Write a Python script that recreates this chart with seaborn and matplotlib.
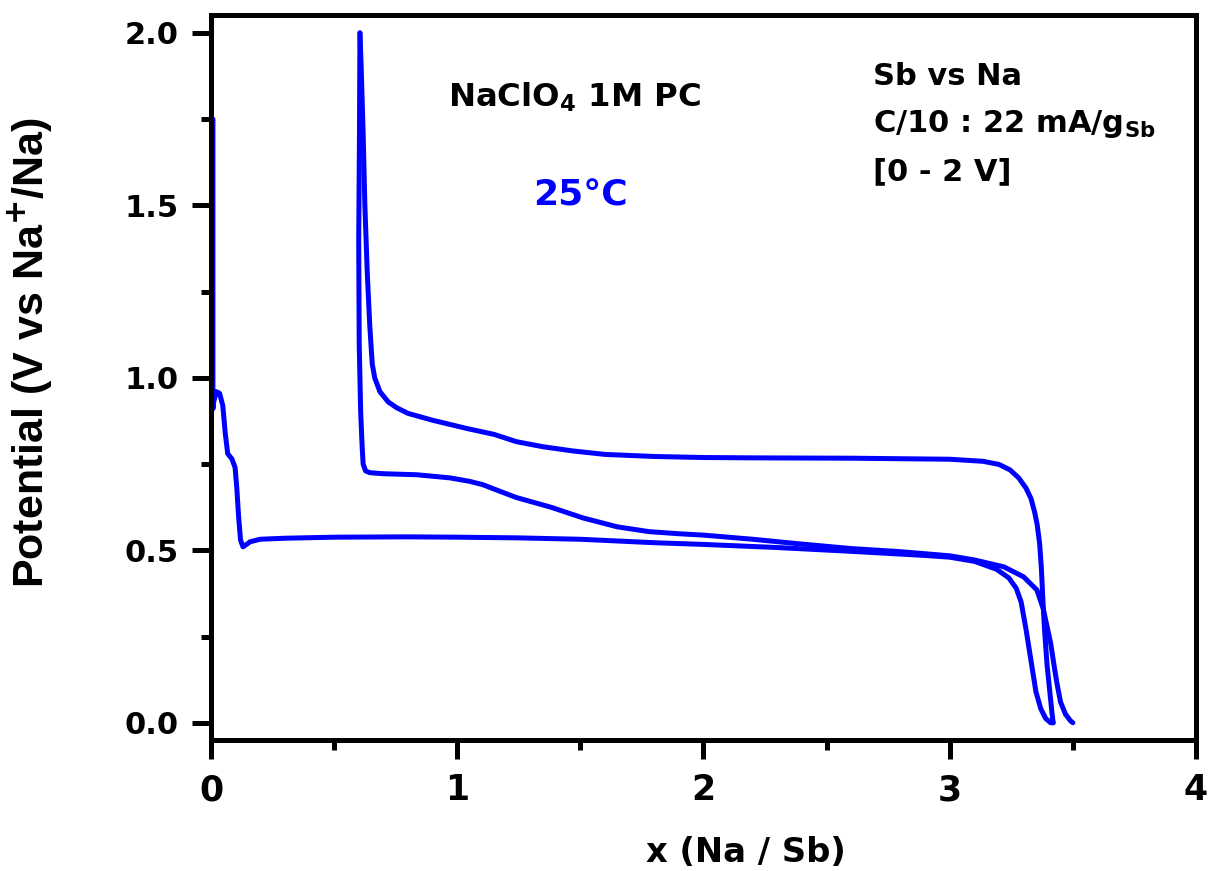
import numpy as np
import pandas as pd
import seaborn as sns
import matplotlib.pyplot as plt
from matplotlib.ticker import MultipleLocator, FormatStrFormatter

# Galvanostatic cycling Sb vs Na
# first discharge (sodiation)
x_dis1 = [0.008, 0.008, 0.008, 0.011, 0.022, 0.035, 0.048, 0.058, 0.068, 0.085, 0.098,
          0.105, 0.112, 0.12, 0.13, 0.16, 0.2, 0.3, 0.5, 0.8, 1.0, 1.25, 1.5, 1.8,
          2.0, 2.3, 2.6, 2.9, 3.0, 3.1, 3.19, 3.24, 3.27, 3.29, 3.31, 3.33, 3.35,
          3.37, 3.39, 3.41, 3.42]
v_dis1 = [1.75, 1.2, 0.91, 0.93, 0.96, 0.955, 0.92, 0.84, 0.78, 0.765, 0.74,
          0.68, 0.6, 0.53, 0.51, 0.525, 0.532, 0.535, 0.538, 0.539, 0.538, 0.536,
          0.532, 0.522, 0.517, 0.508, 0.497, 0.485, 0.48, 0.468, 0.445, 0.42, 0.39,
          0.35, 0.27, 0.18, 0.09, 0.04, 0.012, 0.0, 0.0]

# first charge (desodiation)
x_ch1 = [3.42, 3.415, 3.405, 3.395, 3.385, 3.378, 3.372, 3.365, 3.355, 3.345,
         3.33, 3.31, 3.28, 3.245, 3.2, 3.135, 3.0, 2.6, 2.2, 2.0, 1.8, 1.6, 1.47,
         1.35, 1.24, 1.15, 1.04, 0.9, 0.8, 0.755, 0.72, 0.686, 0.665, 0.655,
         0.645, 0.635, 0.625, 0.618, 0.61, 0.605]
v_ch1 = [0.0, 0.03, 0.1, 0.17, 0.27, 0.36, 0.45, 0.52, 0.575, 0.61,
         0.65, 0.68, 0.71, 0.733, 0.749, 0.758, 0.764, 0.767, 0.768, 0.769, 0.772,
         0.778, 0.788, 0.8, 0.815, 0.836, 0.853, 0.877, 0.897, 0.913, 0.93, 0.96,
         1.0, 1.04, 1.15, 1.3, 1.5, 1.71, 1.9, 2.0]

# second discharge
x_dis2 = [0.605, 0.603, 0.6, 0.602, 0.608, 0.614, 0.618, 0.628, 0.645, 0.7, 0.836,
          0.97, 1.05, 1.105, 1.17, 1.24, 1.38, 1.51, 1.65, 1.78, 1.9, 2.0, 2.2,
          2.4, 2.6, 2.8, 3.0, 3.1, 3.22, 3.3, 3.354, 3.38, 3.395, 3.41, 3.425,
          3.435, 3.45, 3.47, 3.49, 3.5]
v_dis2 = [2.0, 1.7, 1.4, 1.1, 0.9, 0.8, 0.75, 0.73, 0.725, 0.722, 0.719,
          0.71, 0.7, 0.69, 0.672, 0.653, 0.625, 0.594, 0.568, 0.554, 0.548, 0.544,
          0.532, 0.518, 0.505, 0.496, 0.484, 0.472, 0.452, 0.423, 0.385, 0.33,
          0.28, 0.23, 0.16, 0.116, 0.06, 0.025, 0.006, 0.0]

segments = {"dis1": (x_dis1, v_dis1), "ch1": (x_ch1, v_ch1), "dis2": (x_dis2, v_dis2)}
df = pd.concat([pd.DataFrame({"x": xs, "V": vs, "seg": name, "order": np.arange(len(xs))})
                for name, (xs, vs) in segments.items()], ignore_index=True)

sns.set_theme(style="ticks")
plt.rcParams['font.family'] = ['DejaVu Sans']
plt.rcParams['font.weight'] = 'bold'
plt.rcParams['axes.labelweight'] = 'bold'
plt.rcParams['mathtext.default'] = 'bf'
for k in ['text.color', 'axes.labelcolor', 'xtick.color', 'ytick.color', 'axes.edgecolor']:
    plt.rcParams[k] = 'black'

fig = plt.figure(figsize=(12.11, 8.71), dpi=100)
ax = fig.add_axes([0.1742, 0.1504, 0.8134, 0.8324])

sns.lineplot(data=df, x="x", y="V", units="seg", estimator=None, sort=False,
             color="#0000FF", linewidth=3.6, ax=ax)

ax.set_xlim(0, 4)
ax.set_ylim(-0.05, 2.052)
ax.xaxis.set_major_locator(MultipleLocator(1))
ax.xaxis.set_minor_locator(MultipleLocator(0.5))
ax.yaxis.set_major_locator(MultipleLocator(0.5))
ax.yaxis.set_minor_locator(MultipleLocator(0.25))
ax.yaxis.set_major_formatter(FormatStrFormatter("%.1f"))
ax.xaxis.set_major_formatter(FormatStrFormatter("%d"))

for s in ax.spines.values():
    s.set_linewidth(3.6)
    s.set_visible(True)
ax.tick_params(which="major", direction="out", length=14, width=3.6)
ax.tick_params(which="minor", direction="out", length=7, width=3.6)
ax.tick_params(axis="x", which="major", labelsize=25, pad=10)
ax.tick_params(axis="y", which="major", labelsize=22, pad=9)

ax.set_xlabel("x (Na / Sb)", fontsize=24.3, fontweight="bold")
ax.set_ylabel("Potential (V vs Na$^{+}$/Na)", fontsize=31, fontweight="bold",
              family="Liberation Sans")
ax.xaxis.set_label_coords(0.543, -0.133)
ax.yaxis.set_label_coords(-0.158, 0.535)

fig.text(448 / 1211, 1 - 107 / 871, "NaClO$_4$ 1M PC", fontsize=23.3,
         fontweight="bold", ha="left", va="baseline")
fig.text(533 / 1211, 1 - 205 / 871, "25°C", color="#0000FF", fontsize=26,
         fontweight="bold", ha="left", va="baseline")
fig.text(873 / 1211, 1 - 85 / 871, "Sb vs Na", fontsize=22, fontweight="bold",
         ha="left", va="baseline")
fig.text(873 / 1211, 1 - 132 / 871, "C/10 : 22 mA/g$_{Sb}$", fontsize=22,
         fontweight="bold", ha="left", va="baseline")
fig.text(873 / 1211, 1 - 180 / 871, "[0 - 2 V]", fontsize=22, fontweight="bold",
         ha="left", va="baseline")

fig.savefig("out.png", dpi=100)
